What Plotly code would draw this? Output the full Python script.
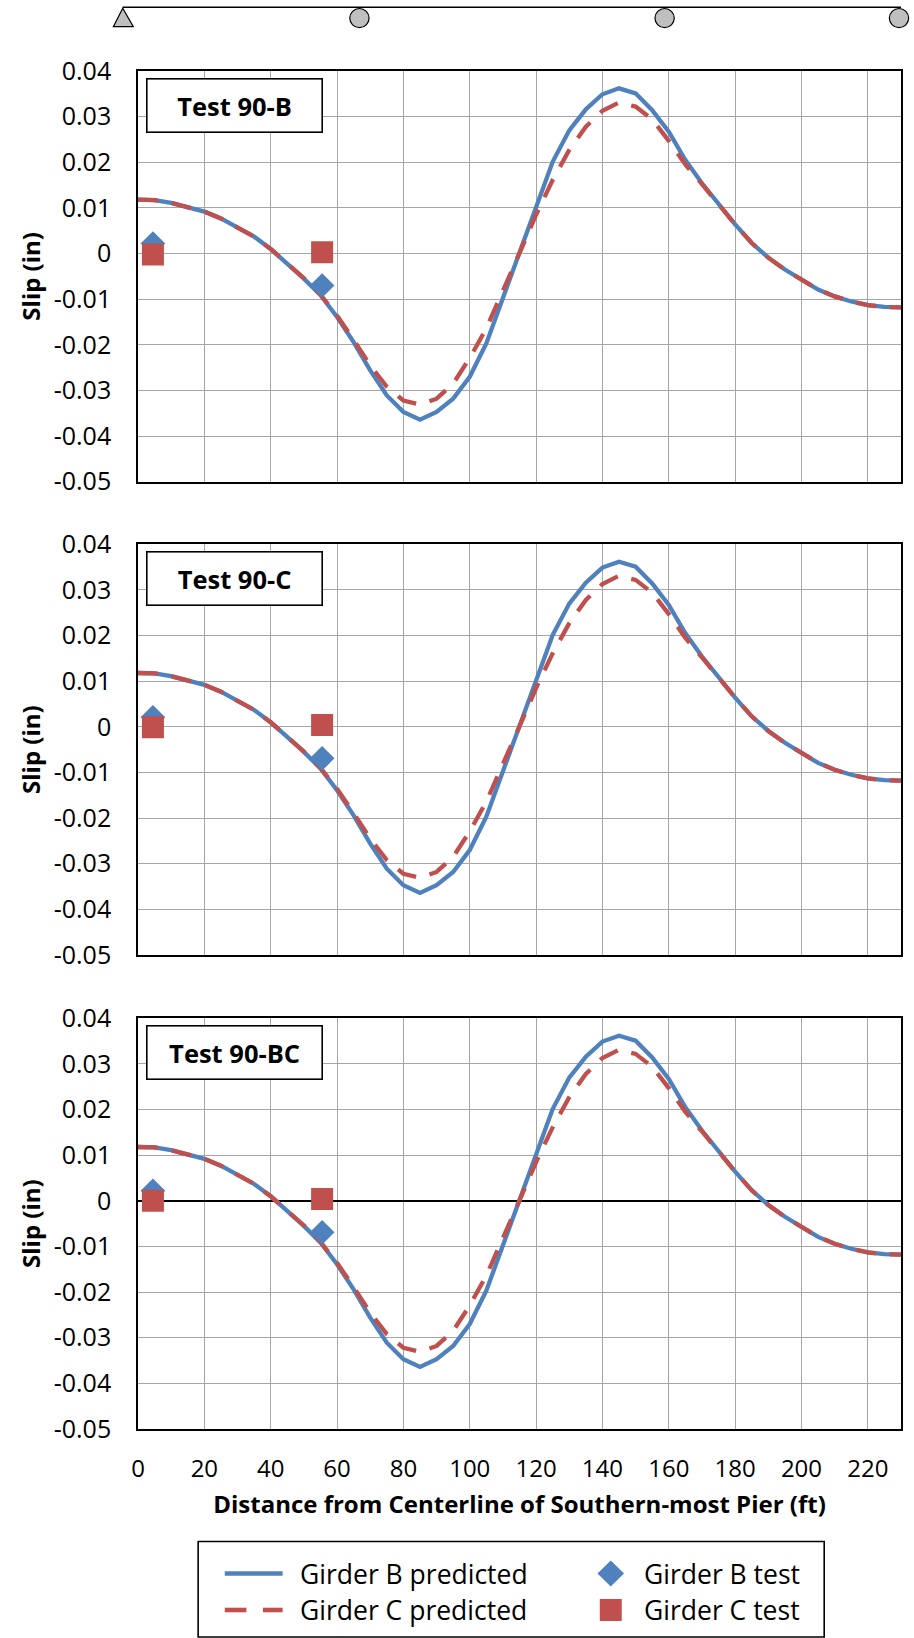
import plotly.graph_objects as go
from plotly.subplots import make_subplots

# ---------------- data ----------------
distance_ft = [0, 5, 10, 15, 20, 25, 30, 35, 40, 45, 50, 55, 60, 65, 70, 75, 80, 85, 90, 95,
               100, 105, 110, 115, 120, 125, 130, 135, 140, 145, 150, 155, 160, 165, 170,
               175, 180, 185, 190, 195, 200, 205, 210, 215, 220, 225, 230]

girder_b_predicted = [0.0118, 0.0117, 0.0111, 0.0101, 0.0092, 0.0077, 0.0058, 0.0037, 0.0010,
                      -0.0022, -0.0055, -0.0091, -0.0139, -0.0194, -0.0256, -0.0311, -0.0347,
                      -0.0364, -0.0347, -0.0318, -0.0270, -0.0197, -0.0099, 0.0000, 0.0101,
                      0.0201, 0.0270, 0.0316, 0.0349, 0.0362, 0.0351, 0.0314, 0.0267, 0.0205,
                      0.0154, 0.0108, 0.0064, 0.0023, -0.0009, -0.0035, -0.0058, -0.0079,
                      -0.0094, -0.0105, -0.0113, -0.0117, -0.0118]

girder_c_predicted = [0.0118, 0.0117, 0.0111, 0.0102, 0.0092, 0.0077, 0.0058, 0.0037, 0.0010,
                      -0.0021, -0.0054, -0.0090, -0.0136, -0.0189, -0.0245, -0.0292, -0.0322,
                      -0.0331, -0.0318, -0.0285, -0.0229, -0.0164, -0.0084, 0.0001, 0.0085,
                      0.0161, 0.0227, 0.0278, 0.0313, 0.0331, 0.0322, 0.0294, 0.0247, 0.0195,
                      0.0152, 0.0107, 0.0064, 0.0023, -0.0009, -0.0035, -0.0058, -0.0079,
                      -0.0094, -0.0105, -0.0113, -0.0117, -0.0118]

test_x = [4.5, 55.5]
test_names = ["Test 90-B", "Test 90-C", "Test 90-BC"]
girder_b_test = [[0.0022, -0.0070], [0.0021, -0.0069], [0.0022, -0.0069]]
girder_c_test = [[-0.0002, 0.0003], [-0.0001, 0.0004], [0.0000, 0.0004]]

x_tick_vals = [0, 20, 40, 60, 80, 100, 120, 140, 160, 180, 200, 220]
x_tick_text = ["0", "20", "40", "60", "80", "100", "120", "140", "160", "180", "200", "220"]
y_tick_vals = [0.04, 0.03, 0.02, 0.01, 0.0, -0.01, -0.02, -0.03, -0.04, -0.05]
y_tick_text = ["0.04", "0.03", "0.02", "0.01", "0", "-0.01", "-0.02", "-0.03", "-0.04", "-0.05"]

legend_labels = ["Girder B predicted", "Girder C predicted", "Girder B test", "Girder C test"]

# ---------------- style ----------------
W, H = 914, 1638
ML, MR, MT, MB = 138, 11, 71, 209
BLUE = "#4F81BD"
RED = "#C0504D"
GRID = "#A6A6A6"
FONT = "Open Sans"
SUPPORT_FILL = "#BFBFBF"


def px_x(px):
    return (px - ML) / (W - ML - MR)


def px_y(py):
    return (H - MB - py) / (H - MT - MB)


panel_px = [(71.0, 481.7), (544.3, 955.0), (1018.3, 1429.0)]

fig = make_subplots(rows=3, cols=1)

for i in range(3):
    r = i + 1
    fig.add_trace(go.Scatter(x=distance_ft, y=girder_b_predicted, mode="lines",
                             name=legend_labels[0], showlegend=False,
                             line=dict(color=BLUE, width=4.3)), row=r, col=1)
    fig.add_trace(go.Scatter(x=distance_ft, y=girder_c_predicted, mode="lines",
                             name=legend_labels[1], showlegend=False,
                             line=dict(color=RED, width=4.3, dash="20px,14px")), row=r, col=1)
    fig.add_trace(go.Scatter(x=test_x, y=girder_b_test[i], mode="markers",
                             name=legend_labels[2], showlegend=False,
                             marker=dict(symbol="diamond", size=19, color=BLUE,
                                         line=dict(width=0))), row=r, col=1)
    fig.add_trace(go.Scatter(x=test_x, y=girder_c_test[i], mode="markers",
                             name=legend_labels[3], showlegend=False,
                             marker=dict(symbol="square", size=22, color=RED,
                                         line=dict(width=0))), row=r, col=1)

    top, bot = panel_px[i]
    fig.update_xaxes(row=r, col=1, range=[0, 230], tickvals=x_tick_vals, ticktext=x_tick_text,
                     showgrid=True, gridcolor=GRID, gridwidth=1.3, zeroline=False,
                     showline=True, mirror=True, linecolor="black", linewidth=1.6,
                     ticks="", showticklabels=(r == 3), ticklabelstandoff=17,
                     tickfont=dict(family=FONT, size=24, color="black"))
    fig.update_yaxes(row=r, col=1, range=[-0.05, 0.04], domain=[px_y(bot), px_y(top)],
                     tickvals=y_tick_vals, ticktext=y_tick_text,
                     showgrid=True, gridcolor=GRID, gridwidth=1.3,
                     zeroline=(r == 3), zerolinecolor="black", zerolinewidth=1.6,
                     showline=True, mirror=True, linecolor="black", linewidth=1.6,
                     ticks="", ticklabelstandoff=20,
                     tickfont=dict(family=FONT, size=25, color="black"),
                     title=dict(text="Slip (in)", standoff=6,
                                font=dict(family=FONT, size=24, color="black", weight="bold")))

    suffix = "" if r == 1 else str(r)
    fig.add_annotation(xref=f"x{suffix} domain", yref=f"y{suffix} domain",
                       x=px_x(146), y=1 - 6.7 / (bot - top),
                       xanchor="left", yanchor="top", text=test_names[i], showarrow=False,
                       width=172, height=50, borderpad=1, borderwidth=1.6, bordercolor="black",
                       bgcolor="white", align="center", valign="middle",
                       font=dict(family=FONT, size=25.5, color="black", weight="bold"))

fig.update_xaxes(row=3, col=1,
                 title=dict(text="Distance from Centerline of Southern-most Pier (ft)", standoff=14,
                            font=dict(family=FONT, size=24, color="black", weight="bold")))

shapes = []
# support diagram above the chart
shapes.append(dict(type="line", xref="paper", yref="paper", x0=px_x(122.7), x1=px_x(903),
                   y0=px_y(7.3), y1=px_y(7.3), line=dict(color="black", width=1.5)))
shapes.append(dict(type="path", xref="paper", yref="paper",
                   path=f"M {px_x(122.7)},{px_y(8.3)} L {px_x(113.3)},{px_y(26.7)} "
                        f"L {px_x(133.3)},{px_y(26.7)} Z",
                   fillcolor=SUPPORT_FILL, line=dict(color="black", width=1.2)))
for cx in [360, 666, 901]:
    shapes.append(dict(type="circle", xref="paper", yref="paper",
                       x0=px_x(cx - 9.7), x1=px_x(cx + 9.7), y0=px_y(27.7), y1=px_y(8.5),
                       fillcolor=SUPPORT_FILL, line=dict(color="black", width=1.2)))

# legend box
shapes.append(dict(type="rect", xref="paper", yref="paper", x0=px_x(198.3), x1=px_x(826),
                   y0=px_y(1637), y1=px_y(1541.5), fillcolor="white",
                   line=dict(color="black", width=1.6)))
row1, row2 = 1573.5, 1610.0
shapes.append(dict(type="line", xref="paper", yref="paper", x0=px_x(225), x1=px_x(283),
                   y0=px_y(row1), y1=px_y(row1), line=dict(color=BLUE, width=4.6)))
for a, b in [(225, 246.7), (263.3, 283)]:
    shapes.append(dict(type="line", xref="paper", yref="paper", x0=px_x(a), x1=px_x(b),
                       y0=px_y(row2), y1=px_y(row2), line=dict(color=RED, width=4.6)))
mx = 612
shapes.append(dict(type="path", xref="paper", yref="paper",
                   path=f"M {px_x(mx)},{px_y(row1 - 13)} L {px_x(mx + 13.3)},{px_y(row1)} "
                        f"L {px_x(mx)},{px_y(row1 + 13)} L {px_x(mx - 13.3)},{px_y(row1)} Z",
                   fillcolor=BLUE, line=dict(width=0)))
shapes.append(dict(type="rect", xref="paper", yref="paper", x0=px_x(mx - 11), x1=px_x(mx + 11),
                   y0=px_y(row2 + 11), y1=px_y(row2 - 11), fillcolor=RED, line=dict(width=0)))

fig.update_layout(shapes=shapes)

legend_pos = [(298, row1), (298, row2), (643, row1), (643, row2)]
for label, (lx, ly) in zip(legend_labels, legend_pos):
    fig.add_annotation(xref="paper", yref="paper", x=px_x(lx), y=px_y(ly), xanchor="left",
                       yanchor="middle", text=label, showarrow=False,
                       font=dict(family=FONT, size=26.5, color="black"))

fig.update_layout(width=W, height=H, margin=dict(l=ML, r=MR, t=MT, b=MB, pad=0),
                  paper_bgcolor="white", plot_bgcolor="white", showlegend=False,
                  font=dict(family=FONT, color="black"))

fig.write_html("out.html")
